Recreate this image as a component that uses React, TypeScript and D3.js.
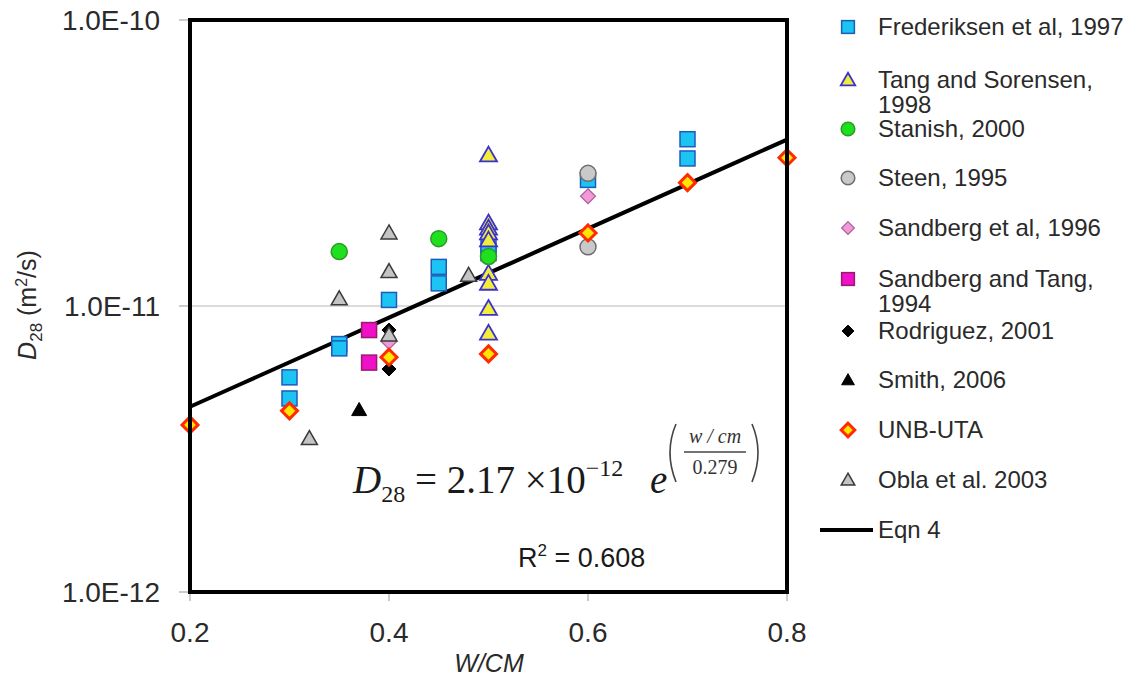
import React from "react";
import * as d3 from "d3";

// ---- data ----
const frederiksenX = [0.3, 0.3, 0.35, 0.35, 0.4, 0.45, 0.45, 0.5, 0.5, 0.6, 0.7, 0.7];
const frederiksenY = [5.63e-12, 4.75e-12, 7.36e-12, 7.11e-12, 1.05e-11, 1.37e-11, 1.2e-11, 1.63e-11, 1.53e-11, 2.76e-11, 3.83e-11, 3.28e-11];
const tangX = [0.5, 0.5, 0.5, 0.5, 0.5, 0.5, 0.5, 0.5, 0.5];
const tangY = [3.37e-11, 1.95e-11, 1.87e-11, 1.8e-11, 1.7e-11, 1.3e-11, 1.2e-11, 9.8e-12, 8.03e-12];
const stanishX = [0.35, 0.45, 0.5];
const stanishY = [1.55e-11, 1.72e-11, 1.49e-11];
const steenX = [0.6, 0.6];
const steenY = [2.91e-11, 1.61e-11];
const sandberg96X = [0.6, 0.4];
const sandberg96Y = [2.42e-11, 7.5e-12];
const sandbergTangX = [0.38, 0.38];
const sandbergTangY = [8.24e-12, 6.34e-12];
const rodriguezX = [0.4, 0.4];
const rodriguezY = [8.24e-12, 6.02e-12];
const smithX = [0.37];
const smithY = [4.33e-12];
const unbX = [0.2, 0.3, 0.4, 0.5, 0.6, 0.7, 0.8];
const unbY = [3.84e-12, 4.3e-12, 6.62e-12, 6.8e-12, 1.8e-11, 2.7e-11, 3.3e-11];
const oblaX = [0.32, 0.35, 0.4, 0.4, 0.4, 0.48];
const oblaY = [3.44e-12, 1.06e-11, 1.8e-11, 1.32e-11, 7.92e-12, 1.28e-11];

const eqnA = 2.17e-12;
const eqnB = 0.279;

const xTicks = [0.2, 0.4, 0.6, 0.8];
const yTicks = [1e-12, 1e-11, 1e-10];
const yTickLabels = ["1.0E-12", "1.0E-11", "1.0E-10"];

type Shape = "square" | "triangle" | "circle" | "diamond";
interface Series {
  name: string[];
  xs: number[];
  ys: number[];
  shape: Shape;
  fill: string;
  stroke: string;
  sw: number;
  size: number;
}

const seriesList: Series[] = [
  { name: ["Frederiksen et al, 1997"], xs: frederiksenX, ys: frederiksenY, shape: "square", fill: "#1cc4f4", stroke: "#1f5bb8", sw: 1.5, size: 15 },
  { name: ["Tang and Sorensen,", "1998"], xs: tangX, ys: tangY, shape: "triangle", fill: "#f2ec3a", stroke: "#3a32d0", sw: 1.8, size: 17 },
  { name: ["Stanish, 2000"], xs: stanishX, ys: stanishY, shape: "circle", fill: "#1ee01e", stroke: "#2a9a2a", sw: 1.5, size: 16 },
  { name: ["Steen, 1995"], xs: steenX, ys: steenY, shape: "circle", fill: "#c9c9c9", stroke: "#6e6e6e", sw: 1.5, size: 16 },
  { name: ["Sandberg et al, 1996"], xs: sandberg96X, ys: sandberg96Y, shape: "diamond", fill: "#f29ad8", stroke: "#a8609a", sw: 1.2, size: 15 },
  { name: ["Sandberg and Tang,", "1994"], xs: sandbergTangX, ys: sandbergTangY, shape: "square", fill: "#f010c8", stroke: "#9a1a70", sw: 1.5, size: 15 },
  { name: ["Rodriguez, 2001"], xs: rodriguezX, ys: rodriguezY, shape: "diamond", fill: "#000", stroke: "#000", sw: 1, size: 14 },
  { name: ["Smith, 2006"], xs: smithX, ys: smithY, shape: "triangle", fill: "#000", stroke: "#000", sw: 1, size: 15 },
  { name: ["UNB-UTA"], xs: unbX, ys: unbY, shape: "diamond", fill: "#ffe600", stroke: "#ff2a00", sw: 3, size: 16 },
  { name: ["Obla et al. 2003"], xs: oblaX, ys: oblaY, shape: "triangle", fill: "#c4c4c4", stroke: "#3a3a3a", sw: 1.5, size: 16 },
];

const legendRows = [27, 80, 129, 178, 228, 279, 331, 380, 430, 480];
const legendEqnRow = 530;

const W = 1146;
const H = 676;
const L = 190, R = 787, T = 20, B = 592;

const x = d3.scaleLinear().domain([0.2, 0.8]).range([L, R]);
const y = d3.scaleLog().domain([1e-12, 1e-10]).range([B, T]);

function Marker({ s, cx, cy }: { s: Series; cx: number; cy: number }) {
  const h = s.size / 2;
  const common = { fill: s.fill, stroke: s.stroke, strokeWidth: s.sw };
  if (s.shape === "square") return <rect x={cx - h} y={cy - h} width={s.size} height={s.size} {...common} />;
  if (s.shape === "circle") return <circle cx={cx} cy={cy} r={h} {...common} />;
  if (s.shape === "diamond")
    return <path d={`M${cx},${cy - h}L${cx + h},${cy}L${cx},${cy + h}L${cx - h},${cy}Z`} {...common} strokeLinejoin="miter" />;
  return <path d={`M${cx},${cy - h}L${cx + h},${cy + h * 0.75}L${cx - h},${cy + h * 0.75}Z`} {...common} strokeLinejoin="miter" />;
}

export default function App() {
  const sans = "Arial, 'Liberation Sans', sans-serif";
  const serif = "'Times New Roman', 'Liberation Serif', serif";
  const fitXs = d3.range(0.2, 0.8001, 0.05);
  const fitLine = d3
    .line<number>()
    .x((v) => x(v))
    .y((v) => y(eqnA * Math.exp(v / eqnB)))(fitXs) as string;

  return (
    <svg width={W} height={H} style={{ position: "absolute", left: 0, top: 0, background: "#fff" }}>
      <rect x={0} y={0} width={W} height={H} fill="#fff" />
      {/* gridline */}
      <line x1={L} x2={R} y1={y(1e-11)} y2={y(1e-11)} stroke="#b8b8b8" strokeWidth={1.2} />
      {/* y ticks */}
      {yTicks.map((t, i) => (
        <g key={"yt" + i}>
          <line x1={L - 11} x2={L} y1={y(t)} y2={y(t)} stroke="#999" strokeWidth={1} />
          <text x={160} y={y(t) + 10} textAnchor="end" fontFamily={sans} fontSize={28} fill="#2a2a2a">
            {yTickLabels[i]}
          </text>
        </g>
      ))}
      {/* x ticks */}
      {xTicks.map((t, i) => (
        <g key={"xt" + i}>
          <line x1={x(t)} x2={x(t)} y1={B} y2={B + 9} stroke="#999" strokeWidth={1} />
          <text x={x(t)} y={642} textAnchor="middle" fontFamily={sans} fontSize={28} fill="#2a2a2a">
            {t.toFixed(1)}
          </text>
        </g>
      ))}
      {/* axis titles */}
      <text x={489} y={672} textAnchor="middle" fontFamily={sans} fontSize={25} fontStyle="italic" fill="#2a2a2a">
        W/CM
      </text>
      <text transform="translate(36,305) rotate(-90)" textAnchor="middle" fontFamily={sans} fontSize={25} fill="#2a2a2a">
        <tspan fontStyle="italic">D</tspan>
        <tspan fontSize={17} dy={6}>28</tspan>
        <tspan dy={-6}> (m</tspan>
        <tspan fontSize={16} dy={-9}>2</tspan>
        <tspan dy={9}>/s)</tspan>
      </text>

      {/* fit line */}
      <path d={fitLine} fill="none" stroke="#000" strokeWidth={4} />

      {/* points */}
      {seriesList.map((s, si) =>
        s.xs.map((xv, i) => <Marker key={si + "-" + i} s={s} cx={x(xv)} cy={y(s.ys[i])} />)
      )}

      {/* frame */}
      <rect x={L} y={T} width={R - L} height={B - T} fill="none" stroke="#000" strokeWidth={4} />

      {/* equation */}
      <text x={353} y={493} fontFamily={serif} fontSize={39} fill="#1a1a1a">
        <tspan fontStyle="italic">D</tspan>
        <tspan fontSize={24} dy={9}>28</tspan>
        <tspan dy={-9}> = 2.17 ×10</tspan>
        <tspan fontSize={24} dy={-17}>−12</tspan>
      </text>
      <text x={650} y={493} fontFamily={serif} fontSize={39} fontStyle="italic" fill="#1a1a1a">
        e
      </text>
      <path d="M676,424 Q664,452 676,482" fill="none" stroke="#444" strokeWidth={1.6} />
      <path d="M752,424 Q764,452 752,482" fill="none" stroke="#444" strokeWidth={1.6} />
      <text x={715} y={443} textAnchor="middle" fontFamily={serif} fontSize={20} fontStyle="italic" fill="#333">
        w / cm
      </text>
      <line x1={684} x2={746} y1={452} y2={452} stroke="#444" strokeWidth={1.4} />
      <text x={715} y={474} textAnchor="middle" fontFamily={serif} fontSize={20} fill="#333">
        0.279
      </text>
      <text x={518} y={567} fontFamily={sans} fontSize={27} fill="#1a1a1a">
        R<tspan fontSize={17} dy={-11}>2</tspan>
        <tspan dy={11}> = 0.608</tspan>
      </text>

      {/* legend */}
      {seriesList.map((s, i) => (
        <g key={"lg" + i}>
          <Marker s={{ ...s, size: s.size * 0.85 }} cx={848} cy={legendRows[i]} />
          {s.name.map((line, j) => (
            <text key={j} x={878} y={legendRows[i] + 8 + j * 25} fontFamily={sans} fontSize={24} fill="#2a2a2a">
              {line}
            </text>
          ))}
        </g>
      ))}
      <line x1={820} x2={873} y1={legendEqnRow} y2={legendEqnRow} stroke="#000" strokeWidth={4} />
      <text x={878} y={legendEqnRow + 8} fontFamily={sans} fontSize={24} fill="#2a2a2a">
        Eqn 4
      </text>
    </svg>
  );
}
